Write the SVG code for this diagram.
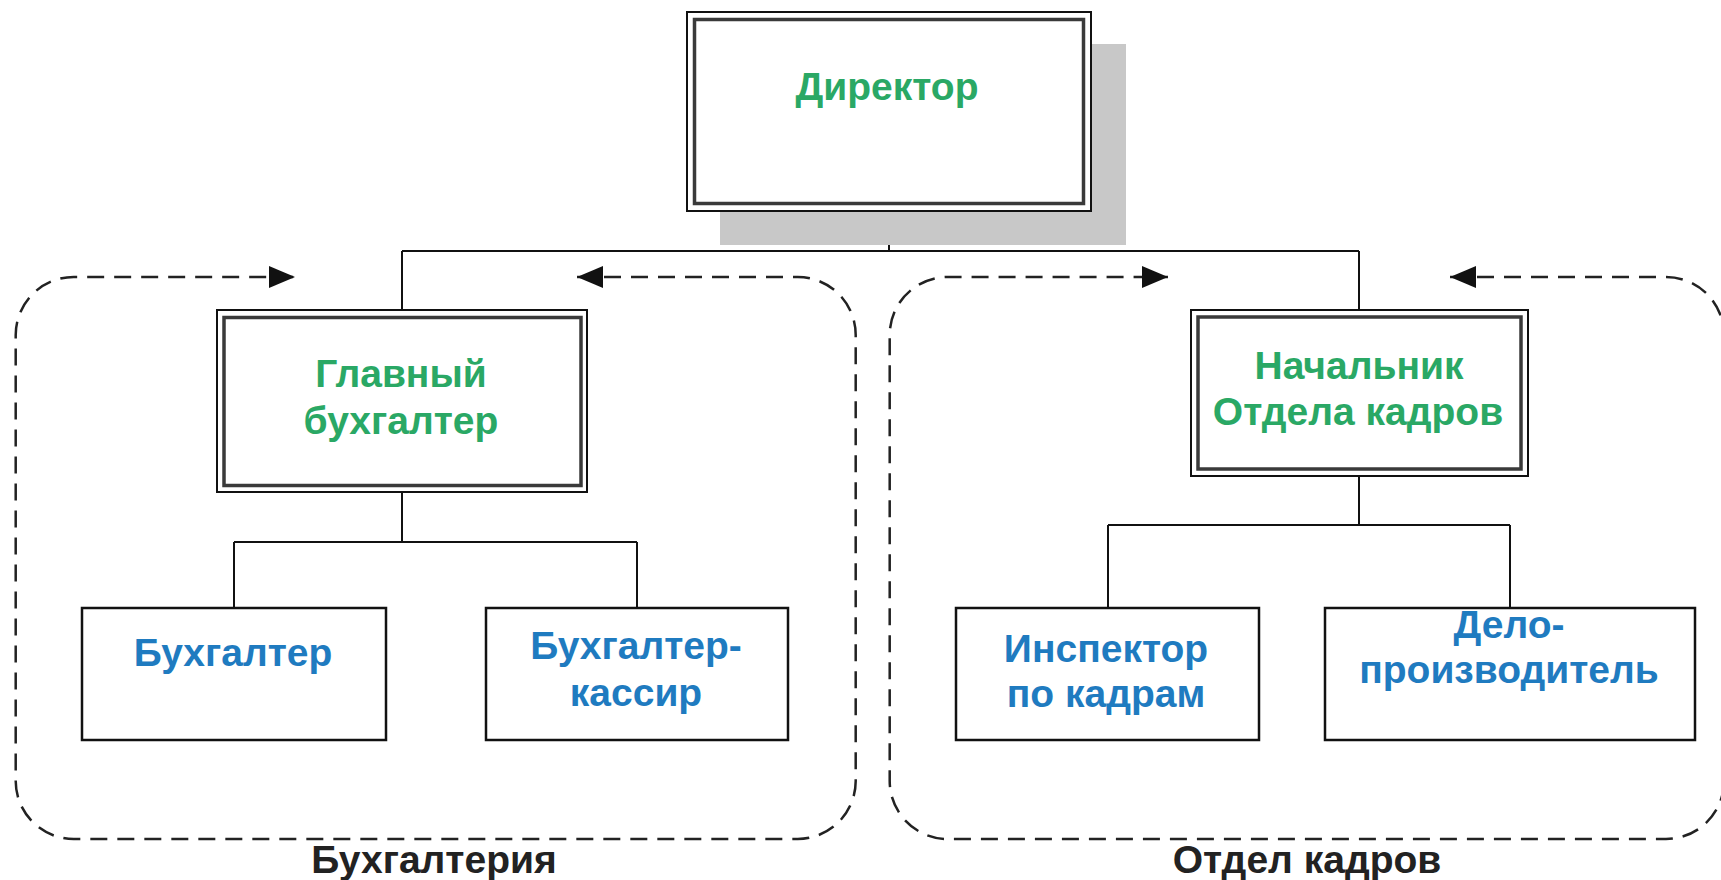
<svg xmlns="http://www.w3.org/2000/svg" width="1721" height="880" viewBox="0 0 1721 880">
<style>
.t{font-family:"Liberation Sans",Arial,sans-serif;font-weight:bold;font-size:39px;text-anchor:middle}
.g{fill:#2aa865}
.b{fill:#1f7bc0}
.k{fill:#222}
.o{fill:#fff;stroke:#111;stroke-width:2}
.i{fill:none;stroke:#3a3a3a;stroke-width:3.5}
.s{fill:#fff;stroke:#111;stroke-width:2.5}
.c{fill:none;stroke:#111;stroke-width:2}
.d{fill:none;stroke:#222;stroke-width:2.5;stroke-dasharray:17 10}
</style>
<defs>
<marker id="ar" markerUnits="userSpaceOnUse" markerWidth="26" markerHeight="22" refX="26" refY="11" orient="auto-start-reverse" viewBox="0 0 26 22">
<path d="M0,0 L26,11 L0,22 Z" fill="#111"/>
</marker>
</defs>
<rect width="1721" height="880" fill="#fff"/>

<g id="groups">
<path class="d" marker-start="url(#ar)" marker-end="url(#ar)" d="M577,277 L797.7,277 A58,58 0 0 1 855.7,335 L855.7,781 A58,58 0 0 1 797.7,839 L73.7,839 A58,58 0 0 1 15.7,781 L15.7,335 A58,58 0 0 1 73.7,277 L295,277"/>
<path class="d" marker-start="url(#ar)" marker-end="url(#ar)" d="M1450,277 L1666,277 A58,58 0 0 1 1724,335 L1724,781 A58,58 0 0 1 1666,839 L947.7,839 A58,58 0 0 1 889.7,781 L889.7,335 A58,58 0 0 1 947.7,277 L1168,277"/>
<text class="t k" x="434" y="873">Бухгалтерия</text>
<text class="t k" x="1307" y="873">Отдел кадров</text>
</g>

<g id="connectors">
<path class="c" d="M889,211 V251 M402,251 H1359 M402,251 V310 M1359,251 V310"/>
<path class="c" d="M402,492 V542 M234,542 H637 M234,542 V608 M637,542 V608"/>
<path class="c" d="M1359,476 V525 M1108,525 H1510 M1108,525 V608 M1510,525 V608"/>
</g>

<g id="director">
<rect x="720" y="44" width="406" height="201" fill="#c8c8c8"/>
<rect class="o" x="687" y="12" width="404" height="199"/>
<rect class="i" x="694.5" y="19.5" width="389" height="184"/>
<text class="t g" x="887" y="99.5">Директор</text>
</g>

<g id="chief-accountant">
<rect class="o" x="217" y="310" width="370" height="182"/>
<rect class="i" x="224" y="317.5" width="357" height="168"/>
<text class="t g" x="401" y="387">Главный</text>
<text class="t g" x="401" y="434">бухгалтер</text>
</g>

<g id="hr-head">
<rect class="o" x="1191" y="310" width="337" height="166"/>
<rect class="i" x="1198" y="317" width="323" height="152"/>
<text class="t g" x="1359" y="379">Начальник</text>
<text class="t g" x="1358" y="425">Отдела кадров</text>
</g>

<g id="accountant">
<rect class="s" x="82" y="608" width="304" height="132"/>
<text class="t b" x="233" y="666">Бухгалтер</text>
</g>

<g id="cashier">
<rect class="s" x="486" y="608" width="302" height="132"/>
<text class="t b" x="636" y="659">Бухгалтер-</text>
<text class="t b" x="636" y="706">кассир</text>
</g>

<g id="inspector">
<rect class="s" x="956" y="608" width="303" height="132"/>
<text class="t b" x="1106" y="662">Инспектор</text>
<text class="t b" x="1106" y="707">по кадрам</text>
</g>

<g id="clerk">
<rect class="s" x="1325" y="608" width="370" height="132"/>
<text class="t b" x="1509" y="638">Дело-</text>
<text class="t b" x="1509" y="683">производитель</text>
</g>
</svg>
